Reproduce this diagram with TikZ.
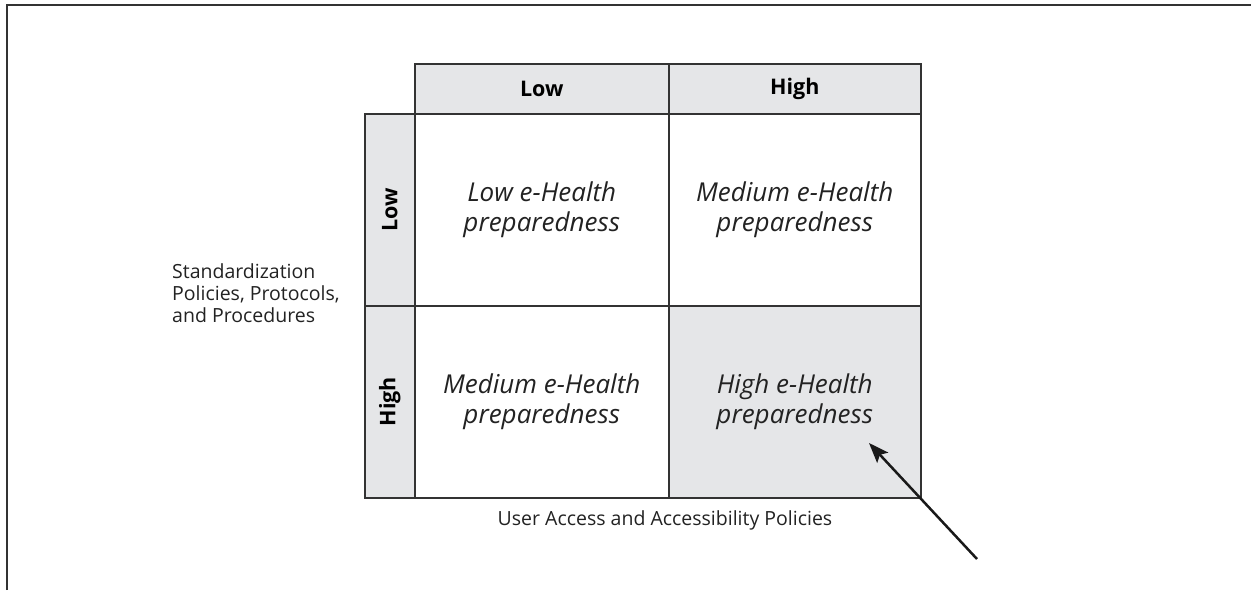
\documentclass[tikz,border=0pt]{standalone}
\usepackage{fontspec}
\setmainfont{Open Sans}
\usetikzlibrary{arrows.meta}
\definecolor{cellgray}{HTML}{E5E6E8}
\definecolor{linegray}{HTML}{333333}
\definecolor{textgray}{HTML}{222222}
\begin{document}
\begin{tikzpicture}[x=1pt,y=-1pt,
  cell/.style={draw=linegray,line width=1.5pt,inner sep=0pt,anchor=north west},
  hdrfont/.style={font=\fontsize{21.5}{25}\selectfont\bfseries},
  hdr/.style={cell,fill=cellgray,hdrfont},
  body/.style={cell,align=center,text=textgray,font=\fontsize{26}{30}\selectfont\itshape},
  lbl/.style={text=textgray,font=\fontsize{19.5}{22}\selectfont,inner sep=0pt}]
\useasboundingbox (0,0) rectangle (1251,590);
% frame
\draw[linegray,line width=2pt] (6.5,590) -- (6.5,4.5) -- (1251,4.5);
% header row
\node[hdr,minimum width=254pt,minimum height=50pt] (hlow) at (414,63) {Low};
\node[hdr,minimum width=252pt,minimum height=50pt] (hhigh) at (668,63) {High};
% left column
\node[hdr,minimum width=50pt,minimum height=192pt] (vlow) at (364,113) {};
\node[hdr,minimum width=50pt,minimum height=192pt] (vhigh) at (364,305) {};
\node[hdrfont,rotate=90] (vlowt) at (vlow.center) {Low};
\node[hdrfont,rotate=90] (vhight) at (vhigh.center) {High};
% body cells
\node[body,minimum width=254pt,minimum height=192pt] (c11) at (414,113) {Low e-Health\\preparedness};
\node[body,minimum width=252pt,minimum height=192pt] (c12) at (668,113) {Medium e-Health\\preparedness};
\node[body,minimum width=254pt,minimum height=192pt] (c21) at (414,305) {Medium e-Health\\preparedness};
\node[body,fill=cellgray,minimum width=252pt,minimum height=192pt] (c22) at (668,305) {High e-Health\\preparedness};
% axis labels
\node[lbl,align=left,anchor=west] (ylab) at (172,293) {Standardization\\Policies, Protocols,\\and Procedures};
\node[lbl] (xlab) at (665,520) {User Access and Accessibility Policies};
% arrow
\coordinate (astart) at (977,559);
\coordinate (aend) at (869,443);
\draw[line width=2.5pt,black!90,-{Stealth[length=20pt,width=15pt,inset=4pt]}] (astart) -- (aend);
\end{tikzpicture}
\end{document}
